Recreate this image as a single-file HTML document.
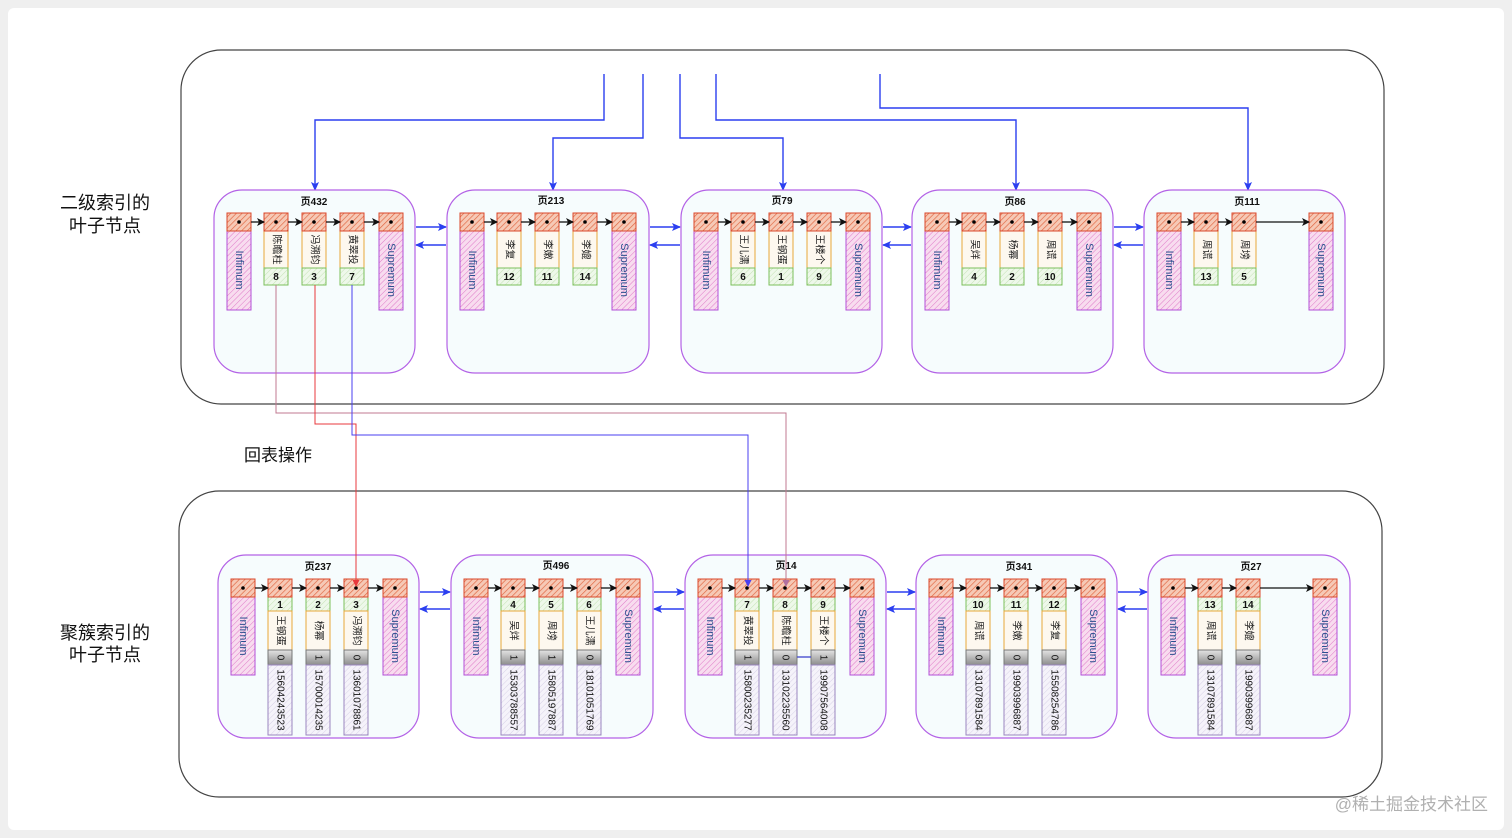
<!DOCTYPE html>
<html><head><meta charset="utf-8"><style>
html,body{margin:0;padding:0;background:#efefef;}
svg{display:block;font-family:"Liberation Sans","Noto Sans CJK SC",sans-serif;}
.pg{fill:#f6fcfd;stroke:#b362e6;stroke-width:1.2}
.hd{fill:url(#hr);stroke:#d9472b;stroke-width:1}
.im{fill:url(#hp);stroke:#b34fd8;stroke-width:1}
.nm{fill:#fdf8ef;stroke:#e8a83a;stroke-width:1}
.nu{fill:url(#hg);stroke:#7cbf5c;stroke-width:1}
.gy{fill:url(#gg);stroke:#777;stroke-width:1}
.ph{fill:url(#hv);stroke:#9a86c0;stroke-width:1}
.t{font-size:10px;font-weight:bold;text-anchor:middle;fill:#111}
.n{font-size:10px;font-weight:bold;text-anchor:middle;fill:#111}
.r{font-size:10px;text-anchor:middle;dominant-baseline:central;fill:#222}
.s{font-size:11px;text-anchor:middle;dominant-baseline:central;fill:#2c4f8f}
.p{font-size:10px;text-anchor:middle;dominant-baseline:central;fill:#111}
.a{stroke:#111;stroke-width:1.3;marker-end:url(#ab)}
.b{stroke:#2b3ff0;stroke-width:1.4;fill:none;marker-end:url(#abl)}
</style></head><body>
<svg width="1512" height="838" viewBox="0 0 1512 838" xmlns="http://www.w3.org/2000/svg">
<defs>
<pattern id="hr" width="4" height="4" patternUnits="userSpaceOnUse" patternTransform="rotate(45)"><rect width="4" height="4" fill="#f6c9b6"/><line x1="0" y1="0" x2="0" y2="4" stroke="#e0643e" stroke-width="1.3"/></pattern>
<pattern id="hp" width="4" height="4" patternUnits="userSpaceOnUse" patternTransform="rotate(45)"><rect width="4" height="4" fill="#f8dcef"/><line x1="0" y1="0" x2="0" y2="4" stroke="#e07ac8" stroke-width="1"/></pattern>
<pattern id="hg" width="4" height="4" patternUnits="userSpaceOnUse" patternTransform="rotate(45)"><rect width="4" height="4" fill="#eef8ea"/><line x1="0" y1="0" x2="0" y2="4" stroke="#c3e2b4" stroke-width="1"/></pattern>
<pattern id="hv" width="4" height="4" patternUnits="userSpaceOnUse" patternTransform="rotate(45)"><rect width="4" height="4" fill="#f5f3fa"/><line x1="0" y1="0" x2="0" y2="4" stroke="#d8d2e8" stroke-width="1"/></pattern>
<linearGradient id="gg" x1="0" y1="0" x2="0" y2="1"><stop offset="0" stop-color="#e4e4e4"/><stop offset="1" stop-color="#8c8c8c"/></linearGradient>
<marker id="ab" markerWidth="8" markerHeight="8" refX="7" refY="4" orient="auto" markerUnits="userSpaceOnUse"><path d="M0,0 L8,4 L0,8 L2,4z" fill="#111"/></marker>
<marker id="abl" markerWidth="9" markerHeight="8" refX="8" refY="4" orient="auto" markerUnits="userSpaceOnUse"><path d="M0,0 L9,4 L0,8 L2,4z" fill="#2b3ff0"/></marker>
<marker id="ar" markerWidth="7" markerHeight="7" refX="6" refY="3.5" orient="auto" markerUnits="userSpaceOnUse"><path d="M0,0 L7,3.5 L0,7z" fill="#e8383c"/></marker>
<marker id="ap" markerWidth="7" markerHeight="7" refX="6" refY="3.5" orient="auto" markerUnits="userSpaceOnUse"><path d="M0,0 L7,3.5 L0,7z" fill="#4a3ff0"/></marker>
<marker id="am" markerWidth="7" markerHeight="7" refX="6" refY="3.5" orient="auto" markerUnits="userSpaceOnUse"><path d="M0,0 L7,3.5 L0,7z" fill="#b070a0"/></marker>
</defs>
<rect x="8" y="8" width="1496" height="822" rx="6" fill="#fff"/>
<rect x="181" y="50" width="1203" height="354" rx="40" fill="#fff" stroke="#444" stroke-width="1.2"/>
<rect x="179" y="491" width="1203" height="306" rx="40" fill="#fff" stroke="#444" stroke-width="1.2"/>

<text x="105" y="209" font-size="18" text-anchor="middle" fill="#111">二级索引的</text>
<text x="105" y="232" font-size="18" text-anchor="middle" fill="#111">叶子节点</text>
<text x="105" y="639" font-size="18" text-anchor="middle" fill="#111">聚簇索引的</text>
<text x="105" y="661" font-size="18" text-anchor="middle" fill="#111">叶子节点</text>
<text x="244" y="461" font-size="17" fill="#111">回表操作</text>
<text x="1488" y="810" font-size="17" text-anchor="end" fill="#b0b0b0">@稀土掘金技术社区</text>

<!-- top connectors -->
<path class="b" d="M604,74 V120 H315 V190"/>
<path class="b" d="M643,74 V138 H553 V190"/>
<path class="b" d="M680,74 V138 H783 V190"/>
<path class="b" d="M716,74 V120 H1016 V190"/>
<path class="b" d="M880,74 V108 H1248 V190"/>

<!-- page links top -->
<g>
<path class="b" d="M416,227 H446"/><path class="b" d="M446,245 H416"/>
<path class="b" d="M650,227 H680"/><path class="b" d="M680,245 H650"/>
<path class="b" d="M883,227 H911"/><path class="b" d="M911,245 H883"/>
<path class="b" d="M1114,227 H1143"/><path class="b" d="M1143,245 H1114"/>
<path class="b" d="M420,592 H450"/><path class="b" d="M450,609 H420"/>
<path class="b" d="M654,592 H684"/><path class="b" d="M684,609 H654"/>
<path class="b" d="M887,592 H915"/><path class="b" d="M915,609 H887"/>
<path class="b" d="M1118,592 H1147"/><path class="b" d="M1147,609 H1118"/>
</g>

<!-- TOP PAGES -->
<g transform="translate(214,190)">
<rect class="pg" width="201" height="183" rx="28"/><text class="t" x="100" y="15">页432</text>
<rect class="im" x="13" y="41" width="24" height="79"/><text class="s" transform="translate(25,80) rotate(90)">Infimum</text>
<rect class="im" x="165" y="41" width="24" height="79"/><text class="s" transform="translate(177,80) rotate(90)">Supremum</text>
<rect class="nm" x="50" y="41" width="24" height="37"/><text class="r" transform="translate(62,59.5) rotate(90)">陈瞻柱</text><rect class="nu" x="50" y="78" width="24" height="17"/><text class="n" x="62" y="90">8</text>
<rect class="nm" x="88" y="41" width="24" height="37"/><text class="r" transform="translate(100,59.5) rotate(90)">冯溯钧</text><rect class="nu" x="88" y="78" width="24" height="17"/><text class="n" x="100" y="90">3</text>
<rect class="nm" x="126" y="41" width="24" height="37"/><text class="r" transform="translate(138,59.5) rotate(90)">黄翠投</text><rect class="nu" x="126" y="78" width="24" height="17"/><text class="n" x="138" y="90">7</text>
<g><rect class="hd" x="13" y="23" width="24" height="18"/><rect class="hd" x="50" y="23" width="24" height="18"/><rect class="hd" x="88" y="23" width="24" height="18"/><rect class="hd" x="126" y="23" width="24" height="18"/><rect class="hd" x="165" y="23" width="24" height="18"/>
<circle cx="25" cy="32" r="1.8"/><circle cx="62" cy="32" r="1.8"/><circle cx="100" cy="32" r="1.8"/><circle cx="138" cy="32" r="1.8"/><circle cx="177" cy="32" r="1.8"/>
<line class="a" x1="37" y1="32" x2="50" y2="32"/><line class="a" x1="74" y1="32" x2="88" y2="32"/><line class="a" x1="112" y1="32" x2="126" y2="32"/><line class="a" x1="150" y1="32" x2="165" y2="32"/></g>
</g>

<g transform="translate(447,190)">
<rect class="pg" width="202" height="183" rx="28"/><text class="t" x="104" y="14">页213</text>
<rect class="im" x="13" y="41" width="24" height="79"/><text class="s" transform="translate(25,80) rotate(90)">Infimum</text>
<rect class="im" x="165" y="41" width="24" height="79"/><text class="s" transform="translate(177,80) rotate(90)">Supremum</text>
<rect class="nm" x="50" y="41" width="24" height="37"/><text class="r" transform="translate(62,59.5) rotate(90)">李复</text><rect class="nu" x="50" y="78" width="24" height="17"/><text class="n" x="62" y="90">12</text>
<rect class="nm" x="88" y="41" width="24" height="37"/><text class="r" transform="translate(100,59.5) rotate(90)">李嫩</text><rect class="nu" x="88" y="78" width="24" height="17"/><text class="n" x="100" y="90">11</text>
<rect class="nm" x="126" y="41" width="24" height="37"/><text class="r" transform="translate(138,59.5) rotate(90)">李媲</text><rect class="nu" x="126" y="78" width="24" height="17"/><text class="n" x="138" y="90">14</text>
<g><rect class="hd" x="13" y="23" width="24" height="18"/><rect class="hd" x="50" y="23" width="24" height="18"/><rect class="hd" x="88" y="23" width="24" height="18"/><rect class="hd" x="126" y="23" width="24" height="18"/><rect class="hd" x="165" y="23" width="24" height="18"/>
<circle cx="25" cy="32" r="1.8"/><circle cx="62" cy="32" r="1.8"/><circle cx="100" cy="32" r="1.8"/><circle cx="138" cy="32" r="1.8"/><circle cx="177" cy="32" r="1.8"/>
<line class="a" x1="37" y1="32" x2="50" y2="32"/><line class="a" x1="74" y1="32" x2="88" y2="32"/><line class="a" x1="112" y1="32" x2="126" y2="32"/><line class="a" x1="150" y1="32" x2="165" y2="32"/></g>
</g>

<g transform="translate(681,190)">
<rect class="pg" width="201" height="183" rx="28"/><text class="t" x="101" y="14">页79</text>
<rect class="im" x="13" y="41" width="24" height="79"/><text class="s" transform="translate(25,80) rotate(90)">Infimum</text>
<rect class="im" x="165" y="41" width="24" height="79"/><text class="s" transform="translate(177,80) rotate(90)">Supremum</text>
<rect class="nm" x="50" y="41" width="24" height="37"/><text class="r" transform="translate(62,59.5) rotate(90)">王儿濡</text><rect class="nu" x="50" y="78" width="24" height="17"/><text class="n" x="62" y="90">6</text>
<rect class="nm" x="88" y="41" width="24" height="37"/><text class="r" transform="translate(100,59.5) rotate(90)">王钢蛋</text><rect class="nu" x="88" y="78" width="24" height="17"/><text class="n" x="100" y="90">1</text>
<rect class="nm" x="126" y="41" width="24" height="37"/><text class="r" transform="translate(138,59.5) rotate(90)">王楼个</text><rect class="nu" x="126" y="78" width="24" height="17"/><text class="n" x="138" y="90">9</text>
<g><rect class="hd" x="13" y="23" width="24" height="18"/><rect class="hd" x="50" y="23" width="24" height="18"/><rect class="hd" x="88" y="23" width="24" height="18"/><rect class="hd" x="126" y="23" width="24" height="18"/><rect class="hd" x="165" y="23" width="24" height="18"/>
<circle cx="25" cy="32" r="1.8"/><circle cx="62" cy="32" r="1.8"/><circle cx="100" cy="32" r="1.8"/><circle cx="138" cy="32" r="1.8"/><circle cx="177" cy="32" r="1.8"/>
<line class="a" x1="37" y1="32" x2="50" y2="32"/><line class="a" x1="74" y1="32" x2="88" y2="32"/><line class="a" x1="112" y1="32" x2="126" y2="32"/><line class="a" x1="150" y1="32" x2="165" y2="32"/></g>
</g>

<g transform="translate(912,190)">
<rect class="pg" width="201" height="183" rx="28"/><text class="t" x="103" y="15">页86</text>
<rect class="im" x="13" y="41" width="24" height="79"/><text class="s" transform="translate(25,80) rotate(90)">Infimum</text>
<rect class="im" x="165" y="41" width="24" height="79"/><text class="s" transform="translate(177,80) rotate(90)">Supremum</text>
<rect class="nm" x="50" y="41" width="24" height="37"/><text class="r" transform="translate(62,59.5) rotate(90)">吴烊</text><rect class="nu" x="50" y="78" width="24" height="17"/><text class="n" x="62" y="90">4</text>
<rect class="nm" x="88" y="41" width="24" height="37"/><text class="r" transform="translate(100,59.5) rotate(90)">杨幂</text><rect class="nu" x="88" y="78" width="24" height="17"/><text class="n" x="100" y="90">2</text>
<rect class="nm" x="126" y="41" width="24" height="37"/><text class="r" transform="translate(138,59.5) rotate(90)">周谎</text><rect class="nu" x="126" y="78" width="24" height="17"/><text class="n" x="138" y="90">10</text>
<g><rect class="hd" x="13" y="23" width="24" height="18"/><rect class="hd" x="50" y="23" width="24" height="18"/><rect class="hd" x="88" y="23" width="24" height="18"/><rect class="hd" x="126" y="23" width="24" height="18"/><rect class="hd" x="165" y="23" width="24" height="18"/>
<circle cx="25" cy="32" r="1.8"/><circle cx="62" cy="32" r="1.8"/><circle cx="100" cy="32" r="1.8"/><circle cx="138" cy="32" r="1.8"/><circle cx="177" cy="32" r="1.8"/>
<line class="a" x1="37" y1="32" x2="50" y2="32"/><line class="a" x1="74" y1="32" x2="88" y2="32"/><line class="a" x1="112" y1="32" x2="126" y2="32"/><line class="a" x1="150" y1="32" x2="165" y2="32"/></g>
</g>

<g transform="translate(1144,190)">
<rect class="pg" width="201" height="183" rx="28"/><text class="t" x="103" y="15">页111</text>
<rect class="im" x="13" y="41" width="24" height="79"/><text class="s" transform="translate(25,80) rotate(90)">Infimum</text>
<rect class="im" x="165" y="41" width="24" height="79"/><text class="s" transform="translate(177,80) rotate(90)">Supremum</text>
<rect class="nm" x="50" y="41" width="24" height="37"/><text class="r" transform="translate(62,59.5) rotate(90)">周谎</text><rect class="nu" x="50" y="78" width="24" height="17"/><text class="n" x="62" y="90">13</text>
<rect class="nm" x="88" y="41" width="24" height="37"/><text class="r" transform="translate(100,59.5) rotate(90)">周塝</text><rect class="nu" x="88" y="78" width="24" height="17"/><text class="n" x="100" y="90">5</text>
<g><rect class="hd" x="13" y="23" width="24" height="18"/><rect class="hd" x="50" y="23" width="24" height="18"/><rect class="hd" x="88" y="23" width="24" height="18"/><rect class="hd" x="165" y="23" width="24" height="18"/>
<circle cx="25" cy="32" r="1.8"/><circle cx="62" cy="32" r="1.8"/><circle cx="100" cy="32" r="1.8"/><circle cx="177" cy="32" r="1.8"/>
<line class="a" x1="37" y1="32" x2="50" y2="32"/><line class="a" x1="74" y1="32" x2="88" y2="32"/><line class="a" x1="112" y1="32" x2="165" y2="32"/></g>
</g>

<!-- BOTTOM PAGES -->
<g transform="translate(218,555)">
<rect class="pg" width="201" height="183" rx="28"/><text class="t" x="100" y="15">页237</text>
<rect class="im" x="13" y="42" width="24" height="78"/><text class="s" transform="translate(25,81) rotate(90)">Infimum</text>
<rect class="im" x="165" y="42" width="24" height="78"/><text class="s" transform="translate(177,81) rotate(90)">Supremum</text>
<rect class="nu" x="50" y="42" width="24" height="14"/><text class="n" x="62" y="53">1</text><rect class="nm" x="50" y="56" width="24" height="39"/><text class="r" transform="translate(62,75.5) rotate(90)">王钢蛋</text><rect class="gy" x="50" y="95" width="24" height="15"/><text class="p" transform="translate(62,102.5) rotate(90)">0</text><rect class="ph" x="50" y="110" width="24" height="70"/><text class="p" transform="translate(62,145) rotate(90)">15604243523</text>
<rect class="nu" x="88" y="42" width="24" height="14"/><text class="n" x="100" y="53">2</text><rect class="nm" x="88" y="56" width="24" height="39"/><text class="r" transform="translate(100,75.5) rotate(90)">杨幂</text><rect class="gy" x="88" y="95" width="24" height="15"/><text class="p" transform="translate(100,102.5) rotate(90)">1</text><rect class="ph" x="88" y="110" width="24" height="70"/><text class="p" transform="translate(100,145) rotate(90)">15700014235</text>
<rect class="nu" x="126" y="42" width="24" height="14"/><text class="n" x="138" y="53">3</text><rect class="nm" x="126" y="56" width="24" height="39"/><text class="r" transform="translate(138,75.5) rotate(90)">冯溯钧</text><rect class="gy" x="126" y="95" width="24" height="15"/><text class="p" transform="translate(138,102.5) rotate(90)">0</text><rect class="ph" x="126" y="110" width="24" height="70"/><text class="p" transform="translate(138,145) rotate(90)">13601078861</text>
<g><rect class="hd" x="13" y="24" width="24" height="18"/><rect class="hd" x="50" y="24" width="24" height="18"/><rect class="hd" x="88" y="24" width="24" height="18"/><rect class="hd" x="126" y="24" width="24" height="18"/><rect class="hd" x="165" y="24" width="24" height="18"/>
<circle cx="25" cy="33" r="1.8"/><circle cx="62" cy="33" r="1.8"/><circle cx="100" cy="33" r="1.8"/><circle cx="138" cy="33" r="1.8"/><circle cx="177" cy="33" r="1.8"/>
<line class="a" x1="37" y1="33" x2="50" y2="33"/><line class="a" x1="74" y1="33" x2="88" y2="33"/><line class="a" x1="112" y1="33" x2="126" y2="33"/><line class="a" x1="150" y1="33" x2="165" y2="33"/></g>
</g>

<g transform="translate(451,555)">
<rect class="pg" width="202" height="183" rx="28"/><text class="t" x="105" y="14">页496</text>
<rect class="im" x="13" y="42" width="24" height="78"/><text class="s" transform="translate(25,81) rotate(90)">Infimum</text>
<rect class="im" x="165" y="42" width="24" height="78"/><text class="s" transform="translate(177,81) rotate(90)">Supremum</text>
<rect class="nu" x="50" y="42" width="24" height="14"/><text class="n" x="62" y="53">4</text><rect class="nm" x="50" y="56" width="24" height="39"/><text class="r" transform="translate(62,75.5) rotate(90)">吴烊</text><rect class="gy" x="50" y="95" width="24" height="15"/><text class="p" transform="translate(62,102.5) rotate(90)">1</text><rect class="ph" x="50" y="110" width="24" height="70"/><text class="p" transform="translate(62,145) rotate(90)">15303788557</text>
<rect class="nu" x="88" y="42" width="24" height="14"/><text class="n" x="100" y="53">5</text><rect class="nm" x="88" y="56" width="24" height="39"/><text class="r" transform="translate(100,75.5) rotate(90)">周塝</text><rect class="gy" x="88" y="95" width="24" height="15"/><text class="p" transform="translate(100,102.5) rotate(90)">1</text><rect class="ph" x="88" y="110" width="24" height="70"/><text class="p" transform="translate(100,145) rotate(90)">15805197887</text>
<rect class="nu" x="126" y="42" width="24" height="14"/><text class="n" x="138" y="53">6</text><rect class="nm" x="126" y="56" width="24" height="39"/><text class="r" transform="translate(138,75.5) rotate(90)">王儿濡</text><rect class="gy" x="126" y="95" width="24" height="15"/><text class="p" transform="translate(138,102.5) rotate(90)">0</text><rect class="ph" x="126" y="110" width="24" height="70"/><text class="p" transform="translate(138,145) rotate(90)">18101051769</text>
<g><rect class="hd" x="13" y="24" width="24" height="18"/><rect class="hd" x="50" y="24" width="24" height="18"/><rect class="hd" x="88" y="24" width="24" height="18"/><rect class="hd" x="126" y="24" width="24" height="18"/><rect class="hd" x="165" y="24" width="24" height="18"/>
<circle cx="25" cy="33" r="1.8"/><circle cx="62" cy="33" r="1.8"/><circle cx="100" cy="33" r="1.8"/><circle cx="138" cy="33" r="1.8"/><circle cx="177" cy="33" r="1.8"/>
<line class="a" x1="37" y1="33" x2="50" y2="33"/><line class="a" x1="74" y1="33" x2="88" y2="33"/><line class="a" x1="112" y1="33" x2="126" y2="33"/><line class="a" x1="150" y1="33" x2="165" y2="33"/></g>
</g>

<g transform="translate(685,555)">
<rect class="pg" width="201" height="183" rx="28"/><text class="t" x="101" y="14">页14</text>
<rect class="im" x="13" y="42" width="24" height="78"/><text class="s" transform="translate(25,81) rotate(90)">Infimum</text>
<rect class="im" x="165" y="42" width="24" height="78"/><text class="s" transform="translate(177,81) rotate(90)">Supremum</text>
<rect class="nu" x="50" y="42" width="24" height="14"/><text class="n" x="62" y="53">7</text><rect class="nm" x="50" y="56" width="24" height="39"/><text class="r" transform="translate(62,75.5) rotate(90)">黄翠投</text><rect class="gy" x="50" y="95" width="24" height="15"/><text class="p" transform="translate(62,102.5) rotate(90)">1</text><rect class="ph" x="50" y="110" width="24" height="70"/><text class="p" transform="translate(62,145) rotate(90)">15800235277</text>
<rect class="nu" x="88" y="42" width="24" height="14"/><text class="n" x="100" y="53">8</text><rect class="nm" x="88" y="56" width="24" height="39"/><text class="r" transform="translate(100,75.5) rotate(90)">陈瞻柱</text><rect class="gy" x="88" y="95" width="24" height="15"/><text class="p" transform="translate(100,102.5) rotate(90)">0</text><rect class="ph" x="88" y="110" width="24" height="70"/><text class="p" transform="translate(100,145) rotate(90)">13102235560</text>
<rect class="nu" x="126" y="42" width="24" height="14"/><text class="n" x="138" y="53">9</text><rect class="nm" x="126" y="56" width="24" height="39"/><text class="r" transform="translate(138,75.5) rotate(90)">王楼个</text><rect class="gy" x="126" y="95" width="24" height="15"/><text class="p" transform="translate(138,102.5) rotate(90)">1</text><rect class="ph" x="126" y="110" width="24" height="70"/><text class="p" transform="translate(138,145) rotate(90)">19907564008</text>
<line x1="112" y1="102" x2="126" y2="102" stroke="#4a50d0" stroke-width="1.4"/>
<g><rect class="hd" x="13" y="24" width="24" height="18"/><rect class="hd" x="50" y="24" width="24" height="18"/><rect class="hd" x="88" y="24" width="24" height="18"/><rect class="hd" x="126" y="24" width="24" height="18"/><rect class="hd" x="165" y="24" width="24" height="18"/>
<circle cx="25" cy="33" r="1.8"/><circle cx="62" cy="33" r="1.8"/><circle cx="100" cy="33" r="1.8"/><circle cx="138" cy="33" r="1.8"/><circle cx="177" cy="33" r="1.8"/>
<line class="a" x1="37" y1="33" x2="50" y2="33"/><line class="a" x1="74" y1="33" x2="88" y2="33"/><line class="a" x1="112" y1="33" x2="126" y2="33"/><line class="a" x1="150" y1="33" x2="165" y2="33"/></g>
</g>

<g transform="translate(916,555)">
<rect class="pg" width="201" height="183" rx="28"/><text class="t" x="103" y="15">页341</text>
<rect class="im" x="13" y="42" width="24" height="78"/><text class="s" transform="translate(25,81) rotate(90)">Infimum</text>
<rect class="im" x="165" y="42" width="24" height="78"/><text class="s" transform="translate(177,81) rotate(90)">Supremum</text>
<rect class="nu" x="50" y="42" width="24" height="14"/><text class="n" x="62" y="53">10</text><rect class="nm" x="50" y="56" width="24" height="39"/><text class="r" transform="translate(62,75.5) rotate(90)">周谎</text><rect class="gy" x="50" y="95" width="24" height="15"/><text class="p" transform="translate(62,102.5) rotate(90)">0</text><rect class="ph" x="50" y="110" width="24" height="70"/><text class="p" transform="translate(62,145) rotate(90)">13107891584</text>
<rect class="nu" x="88" y="42" width="24" height="14"/><text class="n" x="100" y="53">11</text><rect class="nm" x="88" y="56" width="24" height="39"/><text class="r" transform="translate(100,75.5) rotate(90)">李嫩</text><rect class="gy" x="88" y="95" width="24" height="15"/><text class="p" transform="translate(100,102.5) rotate(90)">0</text><rect class="ph" x="88" y="110" width="24" height="70"/><text class="p" transform="translate(100,145) rotate(90)">19903996887</text>
<rect class="nu" x="126" y="42" width="24" height="14"/><text class="n" x="138" y="53">12</text><rect class="nm" x="126" y="56" width="24" height="39"/><text class="r" transform="translate(138,75.5) rotate(90)">李复</text><rect class="gy" x="126" y="95" width="24" height="15"/><text class="p" transform="translate(138,102.5) rotate(90)">0</text><rect class="ph" x="126" y="110" width="24" height="70"/><text class="p" transform="translate(138,145) rotate(90)">15508254786</text>
<g><rect class="hd" x="13" y="24" width="24" height="18"/><rect class="hd" x="50" y="24" width="24" height="18"/><rect class="hd" x="88" y="24" width="24" height="18"/><rect class="hd" x="126" y="24" width="24" height="18"/><rect class="hd" x="165" y="24" width="24" height="18"/>
<circle cx="25" cy="33" r="1.8"/><circle cx="62" cy="33" r="1.8"/><circle cx="100" cy="33" r="1.8"/><circle cx="138" cy="33" r="1.8"/><circle cx="177" cy="33" r="1.8"/>
<line class="a" x1="37" y1="33" x2="50" y2="33"/><line class="a" x1="74" y1="33" x2="88" y2="33"/><line class="a" x1="112" y1="33" x2="126" y2="33"/><line class="a" x1="150" y1="33" x2="165" y2="33"/></g>
</g>

<g transform="translate(1148,555)">
<rect class="pg" width="202" height="183" rx="28"/><text class="t" x="103" y="15">页27</text>
<rect class="im" x="13" y="42" width="24" height="78"/><text class="s" transform="translate(25,81) rotate(90)">Infimum</text>
<rect class="im" x="165" y="42" width="24" height="78"/><text class="s" transform="translate(177,81) rotate(90)">Supremum</text>
<rect class="nu" x="50" y="42" width="24" height="14"/><text class="n" x="62" y="53">13</text><rect class="nm" x="50" y="56" width="24" height="39"/><text class="r" transform="translate(62,75.5) rotate(90)">周谎</text><rect class="gy" x="50" y="95" width="24" height="15"/><text class="p" transform="translate(62,102.5) rotate(90)">0</text><rect class="ph" x="50" y="110" width="24" height="70"/><text class="p" transform="translate(62,145) rotate(90)">13107891584</text>
<rect class="nu" x="88" y="42" width="24" height="14"/><text class="n" x="100" y="53">14</text><rect class="nm" x="88" y="56" width="24" height="39"/><text class="r" transform="translate(100,75.5) rotate(90)">李媲</text><rect class="gy" x="88" y="95" width="24" height="15"/><text class="p" transform="translate(100,102.5) rotate(90)">0</text><rect class="ph" x="88" y="110" width="24" height="70"/><text class="p" transform="translate(100,145) rotate(90)">19903996887</text>
<g><rect class="hd" x="13" y="24" width="24" height="18"/><rect class="hd" x="50" y="24" width="24" height="18"/><rect class="hd" x="88" y="24" width="24" height="18"/><rect class="hd" x="165" y="24" width="24" height="18"/>
<circle cx="25" cy="33" r="1.8"/><circle cx="62" cy="33" r="1.8"/><circle cx="100" cy="33" r="1.8"/><circle cx="177" cy="33" r="1.8"/>
<line class="a" x1="37" y1="33" x2="50" y2="33"/><line class="a" x1="74" y1="33" x2="88" y2="33"/><line class="a" x1="112" y1="33" x2="165" y2="33"/></g>
</g>

<!-- back-to-table lines -->
<path d="M276,285 V413 H786 V586" fill="none" stroke="#c07890" stroke-width="1" marker-end="url(#am)"/>
<path d="M315,285 V424 H356 V586" fill="none" stroke="#e8383c" stroke-width="1" marker-end="url(#ar)"/>
<path d="M352,285 V435 H748 V586" fill="none" stroke="#4a3ff0" stroke-width="1" marker-end="url(#ap)"/>
</svg>
</body></html>
